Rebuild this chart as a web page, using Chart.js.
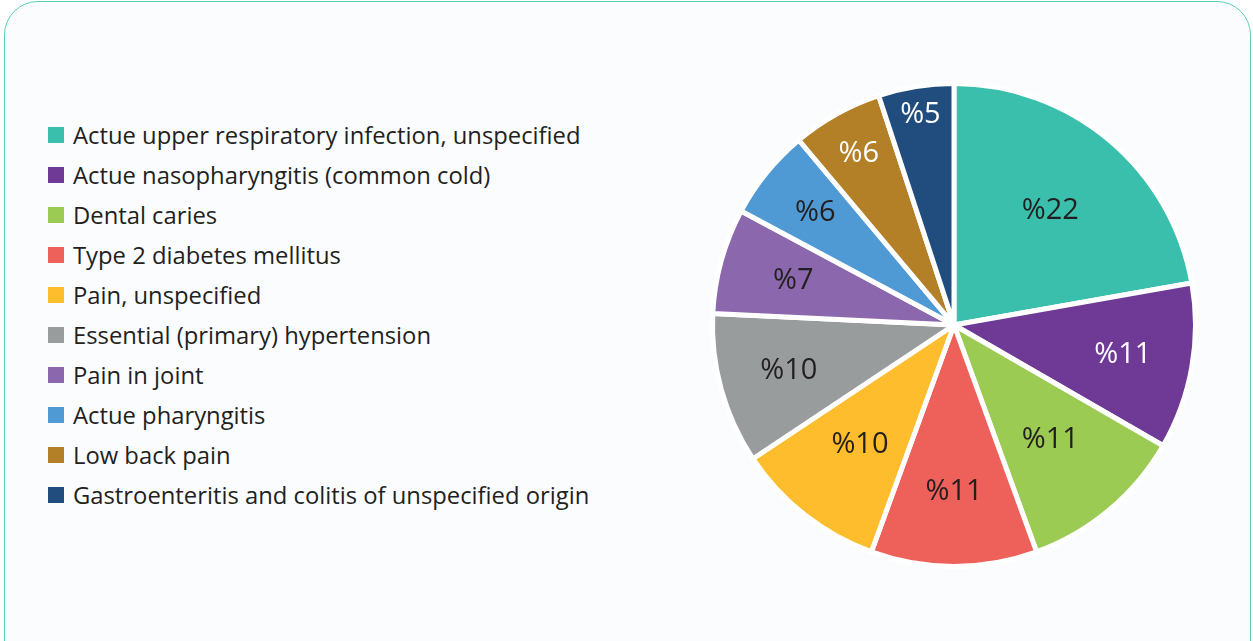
<!DOCTYPE html>
<html><head><meta charset="utf-8">
<script src="https://cdn.jsdelivr.net/npm/chart.js@4.4.1/dist/chart.umd.min.js"></script>
<style>
html,body{margin:0;padding:0;background:#fff;width:1253px;height:641px;overflow:hidden;font-family:"Open Sans",sans-serif;}
#box{position:absolute;left:4px;top:1px;width:1245px;height:680px;border:1.5px solid #5ccfb9;border-radius:34px;background:#fbfcfe;}
#legend{position:absolute;left:48px;top:115px;}
.item{height:40px;display:flex;align-items:center;font-size:23.8px;color:#231f20;white-space:nowrap;}
.sw{width:16px;height:16px;margin-right:9px;flex:none;}
#wrap{position:absolute;left:704px;top:75px;width:500px;height:500px;}
</style></head>
<body>
<div id="box"></div>
<div id="legend"></div>
<div id="wrap"><canvas id="c" width="500" height="500"></canvas></div>
<script>
const categories = ["Actue upper respiratory infection, unspecified","Actue nasopharyngitis (common cold)","Dental caries","Type 2 diabetes mellitus","Pain, unspecified","Essential (primary) hypertension","Pain in joint","Actue pharyngitis","Low back pain","Gastroenteritis and colitis of unspecified origin"];
const values = [22,11,11,11,10,10,7,6,6,5];
const colors = ["#3bbfad","#6f3996","#9bcb52","#ee605a","#fdbd2c","#999c9d","#8b68ad","#4f9ad4","#b38028","#214d7e"];
const labelColors = ["#231f20","#ffffff","#231f20","#231f20","#231f20","#231f20","#231f20","#231f20","#ffffff","#ffffff"];
// label distance from centre as a fraction of the radius (style)
const labelRadius = [0.62,0.71,0.62,0.69,0.63,0.71,0.69,0.74,0.81,0.88];

const leg = document.getElementById('legend');
categories.forEach((c,i)=>{
  const d=document.createElement('div');d.className='item';
  const s=document.createElement('span');s.className='sw';s.style.background=colors[i];
  const t=document.createElement('span');t.textContent=c;
  d.appendChild(s);d.appendChild(t);leg.appendChild(d);
});

const labelPlugin = {
  id:'sliceLabels',
  afterDatasetsDraw(chart){
    const ctx=chart.ctx;const meta=chart.getDatasetMeta(0);
    ctx.save();
    ctx.font='29px "Open Sans", sans-serif';
    ctx.textAlign='center';ctx.textBaseline='middle';
    meta.data.forEach((arc,i)=>{
      const mid=(arc.startAngle+arc.endAngle)/2;
      const r=arc.outerRadius*labelRadius[i];
      ctx.fillStyle=labelColors[i];
      ctx.fillText('%'+values[i], arc.x+Math.cos(mid)*r, arc.y+Math.sin(mid)*r);
    });
    ctx.restore();
  }
};

new Chart(document.getElementById('c'),{
  type:'pie',
  data:{labels:categories,datasets:[{data:values,backgroundColor:colors,borderColor:'#ffffff',borderWidth:5,hoverOffset:0}]},
  options:{responsive:false,animation:false,layout:{padding:6},
    plugins:{legend:{display:false},tooltip:{enabled:false}}},
  plugins:[labelPlugin]
});
</script>
</body></html>
